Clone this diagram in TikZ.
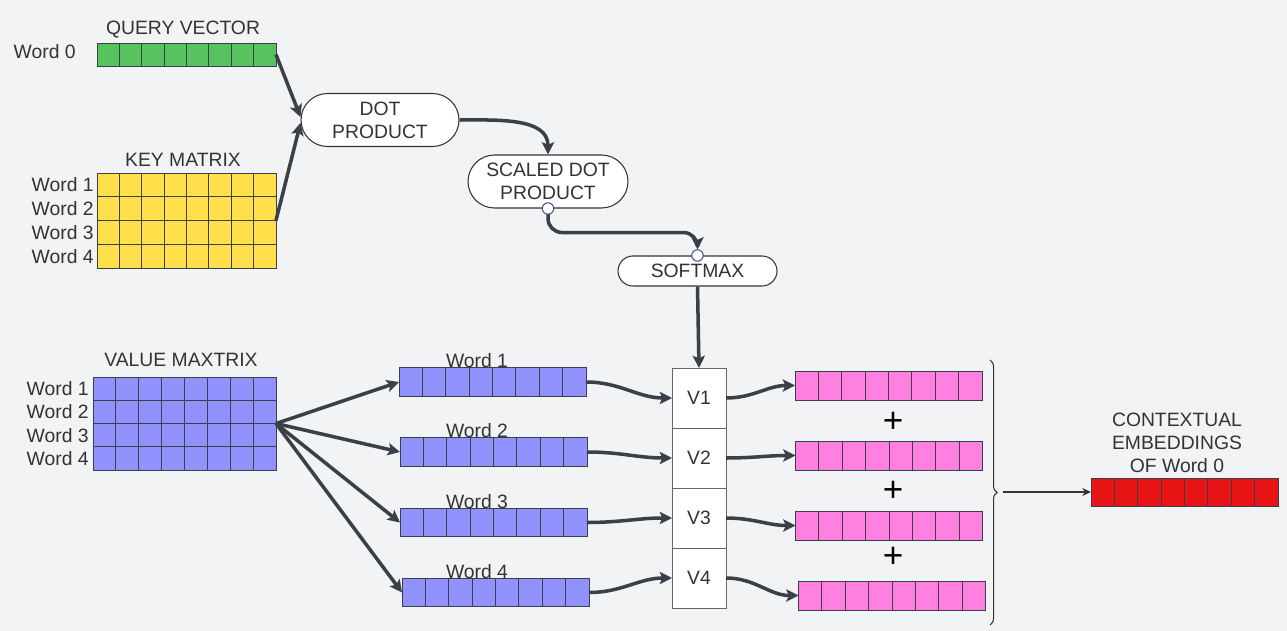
\documentclass[tikz,border=0pt]{standalone}
\usepackage{fontspec}
\setmainfont{Liberation Sans}
\usetikzlibrary{calc,arrows.meta,shapes.misc,decorations.pathreplacing}

\definecolor{bgcol}{HTML}{F1F3F5}
\definecolor{qgreen}{HTML}{56C35E}
\definecolor{kyellow}{HTML}{FFE04B}
\definecolor{vpurple}{HTML}{9292FF}
\definecolor{epink}{HTML}{FF80E1}
\definecolor{cred}{HTML}{E81416}
\definecolor{linec}{HTML}{3B3F48}
\definecolor{txtc}{HTML}{333333}
\definecolor{portc}{HTML}{4A4AA0}

\tikzset{
  lbl/.style={font=\fontsize{11}{13}\selectfont, text=txtc, inner sep=0pt},
  vecbox/.style={draw=linec, line width=0.5pt, inner sep=0pt, outer sep=0pt},
  pill/.style={rounded rectangle, draw=txtc, fill=white, line width=0.6pt, lbl, align=center},
  vbox/.style={draw=gray!80!black, fill=white, line width=0.5pt, minimum width=1.08cm, minimum height=1.2cm, lbl, outer sep=0pt},
  flow/.style={draw=linec, line width=2pt, -{Stealth[length=7pt,width=7pt,inset=1.5pt]}},
  port/.style={circle, draw=portc, fill=white, minimum size=6.5pt, inner sep=0pt, line width=0.6pt},
}

\begin{document}
\begin{tikzpicture}[x=0.02cm, y=-0.02cm]
    % Fondo
    \fill[bgcol] (0,0) rectangle (1287,631);
    \useasboundingbox (0,0) rectangle (1287,631);

    % Query
    \node[lbl] (qtitle) at (183,30) {QUERY VECTOR};
    \node[lbl, anchor=east] (qlbl) at (76,52) {Word 0};
    \node[vecbox, fill=qgreen, minimum width=3.58cm, minimum height=0.46cm] (query) at (186.5,54.5) {};

    % Key matrix
    \node[lbl] (ktitle) at (183,160) {KEY MATRIX};
    \foreach \i/\y in {1/184.9,2/208.6,3/232.4,4/256.1} {
        \node[vecbox, fill=kyellow, minimum width=3.58cm, minimum height=0.475cm] (key\i) at (186.5,\y) {};
        \node[lbl, anchor=east] (klbl\i) at (94,\y) {Word \i};
    }

    % Value matrix
    \node[lbl] (vtitle) at (181,360) {VALUE MAXTRIX};
    \foreach \i/\y in {1/388.6,2/411.9,3/435.1,4/458.4} {
        \node[vecbox, fill=vpurple, minimum width=3.66cm, minimum height=0.465cm] (val\i) at (184.5,\y) {};
        \node[lbl, anchor=east] (vlbl\i) at (89,\y) {Word \i};
    }

    % Value vectors
    \foreach \i/\x/\y in {1/492.5/382,2/493.5/452,3/493.5/522.5,4/495.5/592.5} {
        \node[vecbox, fill=vpurple, minimum width=3.74cm, minimum height=0.57cm] (w\i) at (\x,\y) {};
        \node[lbl] (wlbl\i) at (477,\y-21) {Word \i};
    }

    % Pasos
    \node[pill, minimum width=3.16cm, minimum height=1.06cm] (dot) at (380,120) {DOT\\PRODUCT};
    \node[pill, minimum width=3.2cm, minimum height=1.06cm] (scaled) at (548,181.5) {SCALED DOT\\PRODUCT};
    \node[pill, minimum width=3.18cm, minimum height=0.6cm] (softmax) at (697.5,271) {SOFTMAX};

    % Pesos
    \foreach \i/\y in {1/398,2/458,3/518,4/578}
        \node[vbox] (V\i) at (699,\y) {V\i};

    % Pink vectors
    \foreach \i/\x/\y in {1/888.5/385.5,2/889/455.5,3/889/525.5,4/892/595.5}
        \node[vecbox, fill=epink, minimum width=3.74cm, minimum height=0.58cm] (p\i) at (\x,\y) {};
    \foreach \i/\y in {1/422,2/491,3/557}
        \node[font=\fontsize{20}{20}\selectfont, inner sep=0pt] (plus\i) at (893,\y) {+};

    % Result
    \node[lbl, align=center] (elbl) at (1177,443) {CONTEXTUAL\\EMBEDDINGS\\OF Word 0};
    \node[vecbox, fill=cred, minimum width=3.74cm, minimum height=0.56cm] (emb) at (1184.5,492) {};

    % Celdas
    \foreach \v in {query,key1,key2,key3,key4,val1,val2,val3,val4,w1,w2,w3,w4,p1,p2,p3,p4,emb}
        \foreach \k in {1,...,7}
            \draw[draw=linec, line width=0.5pt] ($(\v.south west)!\k/8!(\v.south east)$) -- ($(\v.north west)!\k/8!(\v.north east)$);

    % Flechas
    \draw[flow] (query.east) -- ($(dot.west)+(0,-3)$);
    \draw[flow] (key2.south east) -- ($(dot.west)+(0,3)$);
    \draw[flow] (dot.east) to[out=0, in=90] (scaled.north);
    \draw[flow, rounded corners=8pt] (scaled.south) -- ++(0,24) -| ($(softmax.north)+(0,-6)$);
    \node[port] (sport) at (scaled.south) {};
    \node[port] (mport) at (softmax.north) {};
    \draw[flow] (softmax.south) -- (V1.north);

    \foreach \i in {1,...,4} {
        \draw[flow] (val2.south east) -- (w\i.west);
        \draw[flow] (w\i.east) to[out=0, in=180] (V\i.west);
        \draw[flow] (V\i.east) to[out=0, in=180] (p\i.west);
    }

    % Llave
    \draw[draw=txtc, line width=0.6pt, decorate, decoration={brace, amplitude=4pt}] (990,360) -- (990,625);
    \coordinate (btip) at (1003,492);
    \draw[draw=txtc, line width=0.6pt, -{Stealth[length=5pt,width=4.5pt]}] (btip) -- (emb.west);
\end{tikzpicture}
\end{document}
